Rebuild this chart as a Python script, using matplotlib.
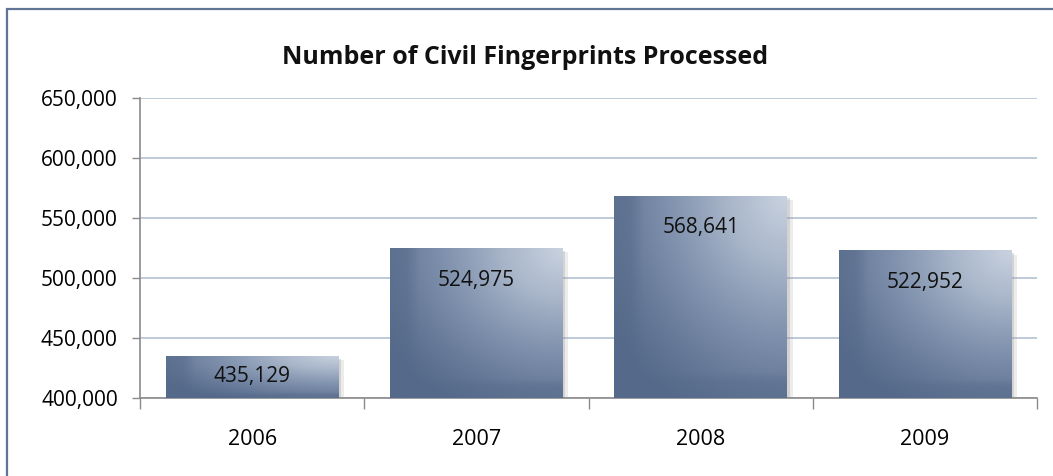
import numpy as np
import matplotlib
matplotlib.use('Agg')
import matplotlib.pyplot as plt
import matplotlib.patheffects as pe
from matplotlib.colors import LinearSegmentedColormap
from matplotlib.patches import Rectangle

years = ["2006", "2007", "2008", "2009"]
processed = [435129, 524975, 568641, 522952]
y_ticks = [400000, 450000, 500000, 550000, 600000, 650000]

plt.rcParams['font.family'] = ['Open Sans', 'DejaVu Sans']

W, H = 1053, 476
fig = plt.figure(figsize=(W / 100, H / 100), dpi=100)

# outer frame of the chart area (right and bottom edges run off the image)
fig.patches.append(Rectangle((7 / W, -20 / H), 1080 / W, 487 / H, transform=fig.transFigure,
                             fill=False, edgecolor="#5f7593", linewidth=1.6))

ax = fig.add_axes([140 / W, 78 / H, 897 / W, 300 / H])
ymin, ymax = 400000, 650000

cmap = LinearSegmentedColormap.from_list("bar", ["#55698a", "#7d8fab", "#a9b6ca", "#c9d2df"])
gx, gy = np.meshgrid(np.linspace(0, 1, 120), np.linspace(0, 1, 120))
dist = np.sqrt((1 - gx) ** 2 + (1 - gy) ** 2)
shade = np.clip(1 - dist / 1.25, 0, 1) ** 1.3
shade = shade * np.clip(gx * 6, 0.55, 1) * np.clip(gy * 8, 0.6, 1)

bar_w = 0.77
bars = ax.bar(range(len(years)), [v - ymin for v in processed], bottom=ymin,
              width=bar_w, color="#6a7d9b", zorder=2)
for i, (b, v) in enumerate(zip(bars, processed)):
    b.set_path_effects([pe.SimplePatchShadow(offset=(4, -3), shadow_rgbFace="#9a9a9a", alpha=0.18),
                        pe.SimplePatchShadow(offset=(2, -2), shadow_rgbFace="#8a8a8a", alpha=0.25),
                        pe.Normal()])
    img = ax.imshow(shade, cmap=cmap, vmin=0, vmax=1, origin="lower", aspect="auto",
                    extent=(i - bar_w / 2, i + bar_w / 2, ymin, v), zorder=3,
                    interpolation="bilinear")
    img.set_clip_path(b)
    # label sits near the top; short bars get it centred instead
    drop = min(26700, (v - ymin) / 2)
    ax.text(i, v - drop, f"{v:,}", ha="center", va="center", fontsize=15,
            color="#111111", zorder=4)

ax.set_xlim(-0.5, 3.5)
ax.set_ylim(ymin, ymax)

ax.set_yticks(y_ticks)
ax.set_yticklabels([f"{t:,}" for t in y_ticks], fontsize=15)
ax.yaxis.grid(True, color="#bac6d6", linewidth=1.3, zorder=0)
ax.set_axisbelow(True)

ax.set_xticks(range(len(years)))
ax.set_xticklabels(years, fontsize=15.5)
ax.set_xticks(np.arange(-0.5, 4.0, 1.0), minor=True)
ax.tick_params(axis="x", which="major", length=0, pad=22)
ax.tick_params(axis="x", which="minor", length=8, color="#8a8a8a", width=1)
ax.tick_params(axis="y", length=6, color="#8a8a8a", width=1, pad=10)

for side in ("top", "right"):
    ax.spines[side].set_visible(False)
for side in ("left", "bottom"):
    ax.spines[side].set_color("#8a8a8a")
    ax.spines[side].set_linewidth(1.2)

fig.text(525 / W, 1 - 58 / H, "Number of Civil Fingerprints Processed",
         ha="center", va="center", fontsize=18, fontweight="bold", color="#111111")

fig.savefig("out.png", dpi=100)
